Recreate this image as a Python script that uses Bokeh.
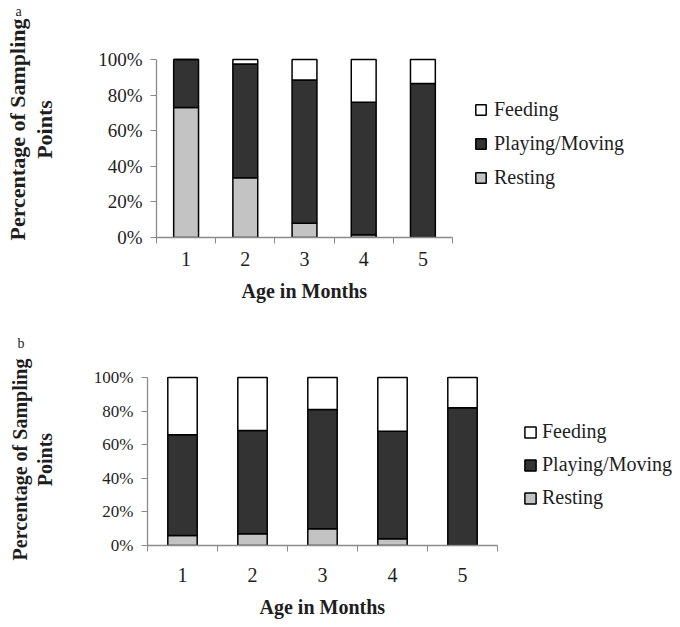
from bokeh.plotting import figure
from bokeh.models import (ColumnDataSource, Range1d, FixedTicker, PrintfTickFormatter,
                          Legend, LegendItem, Title)
from bokeh.embed import file_html
from bokeh.resources import INLINE

# ---- data ----
months = [1, 2, 3, 4, 5]
month_labels = ["1", "2", "3", "4", "5"]
categories = ["Resting", "Playing/Moving", "Feeding"]

resting_a = [73, 33.5, 8, 1.5, 0]
playing_a = [27, 64, 80.5, 74.5, 86.5]
feeding_a = [0, 2.5, 11.5, 24, 13.5]

resting_b = [6, 7, 10, 4, 0]
playing_b = [60, 61.5, 71, 64, 82]
feeding_b = [34, 31.5, 19, 32, 18]

y_ticks = [0, 20, 40, 60, 80, 100]

colors = ["#c3c3c3", "#333333", "#ffffff"]
SERIF = "Liberation Serif"
AXIS_COL = "#8a8a8a"
TXT_COL = "#1e1e1e"


def make_panel(letter, resting, playing, feeding, width, height, frame_left,
               frame_top, frame_bottom, px_per_unit, y_end, ytick_size, xlab_standoff,
               points_standoff, pct_standoff, xtitle_offset, xtitle_standoff, ylab_size,
               legend_loc, legend_spacing, legend_standoff, glyph,
               letter_offset, letter_standoff):
    frame_w = width - frame_left
    x_end = 0.5 + frame_w / px_per_unit
    p = figure(width=width, height=height, output_backend="svg", toolbar_location=None,
               x_range=Range1d(0.5, x_end), y_range=Range1d(0, y_end),
               min_border_left=frame_left, min_border_right=0,
               min_border_top=frame_top, min_border_bottom=height - frame_bottom)
    p.outline_line_color = None
    p.grid.visible = False
    p.background_fill_color = "white"
    p.border_fill_color = "white"

    src = ColumnDataSource(dict(x=months, Resting=resting,
                                **{"Playing/Moving": playing}, Feeding=feeding))
    rs = p.vbar_stack(categories, x="x", width=0.42, source=src, fill_color=colors,
                      line_color="black", line_width=1.5)

    # x axis
    xa = p.xaxis[0]
    xa.ticker = FixedTicker(ticks=months,
                            minor_ticks=[m - 0.5 for m in months] + [months[-1] + 0.5])
    xa.major_label_overrides = {m: l for m, l in zip(months, month_labels)}
    xa.bounds = (0.5, months[-1] + 0.5)
    xa.major_tick_out = 0
    xa.major_tick_in = 0
    xa.minor_tick_out = 6
    xa.minor_tick_in = 0
    xa.minor_tick_line_color = AXIS_COL
    xa.axis_line_color = AXIS_COL
    xa.axis_line_width = 1.3
    xa.major_label_text_font = SERIF
    xa.major_label_text_font_size = "20px"
    xa.major_label_text_color = TXT_COL
    xa.major_label_standoff = xlab_standoff

    # x title (below the axis, aligned over the category span)
    p.add_layout(Title(text="Age in Months", align="left", vertical_align="bottom",
                       offset=xtitle_offset, standoff=xtitle_standoff,
                       text_font=SERIF, text_font_style="bold",
                       text_font_size="20px", text_color=TXT_COL), "below")

    # y axis
    ya = p.yaxis[0]
    ya.ticker = FixedTicker(ticks=y_ticks, minor_ticks=[])
    ya.formatter = PrintfTickFormatter(format="%d%%")
    ya.bounds = (0, 100)
    ya.major_tick_out = 6
    ya.major_tick_in = 0
    ya.minor_tick_out = 0
    ya.minor_tick_in = 0
    ya.major_tick_line_color = AXIS_COL
    ya.axis_line_color = AXIS_COL
    ya.axis_line_width = 1.3
    ya.major_label_text_font = SERIF
    ya.major_label_text_font_size = ytick_size
    ya.major_label_text_color = TXT_COL
    ya.major_label_standoff = 8
    ya.axis_label = "Points"
    ya.axis_label_text_font = SERIF
    ya.axis_label_text_font_style = "bold"
    ya.axis_label_text_font_size = ylab_size
    ya.axis_label_text_color = TXT_COL
    ya.axis_label_standoff = points_standoff

    # first line of the y title
    p.add_layout(Title(text="Percentage of Sampling", align="center",
                       vertical_align="bottom", standoff=pct_standoff,
                       text_font=SERIF, text_font_style="bold",
                       text_font_size=ylab_size, text_color=TXT_COL), "left")

    # legend (inside the extended frame, right of the bars)
    items = [LegendItem(label=categories[i], renderers=[rs[i]]) for i in (2, 1, 0)]
    leg = Legend(items=items, location=legend_loc, orientation="vertical")
    leg.glyph_width = glyph
    leg.glyph_height = glyph
    leg.label_height = 20
    leg.label_text_font = SERIF
    leg.label_text_font_size = "20px"
    leg.label_text_color = TXT_COL
    leg.label_text_baseline = "middle"
    leg.label_standoff = legend_standoff
    leg.spacing = legend_spacing
    leg.padding = 0
    leg.margin = 0
    leg.border_line_alpha = 0
    leg.background_fill_alpha = 0
    p.add_layout(leg)

    # panel letter
    p.add_layout(Title(text=letter, align="left", vertical_align="top",
                       offset=letter_offset, standoff=letter_standoff,
                       text_font=SERIF, text_font_style="normal",
                       text_font_size="14px", text_color=TXT_COL), "above")
    return p


p1 = make_panel("a", resting_a, playing_a, feeding_a, width=680, height=312,
                frame_left=156, frame_top=21, frame_bottom=237, px_per_unit=59.2,
                y_end=121.35, ytick_size="19px", xlab_standoff=8,
                points_standoff=38, pct_standoff=0, xtitle_offset=85, xtitle_standoff=18,
                ylab_size="22px",
                legend_loc=(318, 48), legend_spacing=11, legend_standoff=7, glyph=13,
                letter_offset=-141, letter_standoff=2)

p2 = make_panel("b", resting_b, playing_b, feeding_b, width=680, height=315,
                frame_left=147, frame_top=61, frame_bottom=233, px_per_unit=70.0,
                y_end=102.4, ytick_size="17px", xlab_standoff=16,
                points_standoff=35, pct_standoff=0, xtitle_offset=112, xtitle_standoff=18,
                ylab_size="20px",
                legend_loc=(376, 36), legend_spacing=10, legend_standoff=5, glyph=14,
                letter_offset=-130, letter_standoff=42)

open("out.html", "w").write(file_html([p1, p2], INLINE))
